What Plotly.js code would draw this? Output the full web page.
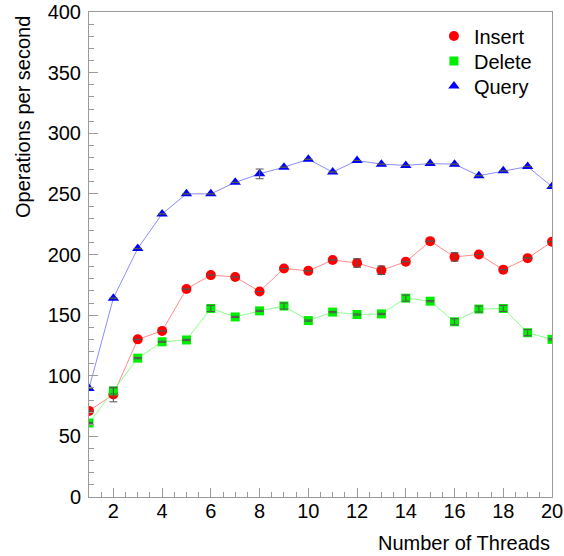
<!DOCTYPE html>
<html>
<head>
<meta charset="utf-8">
<script src="https://cdn.plot.ly/plotly-3.0.1.min.js"></script>
<style>
  html, body { margin: 0; padding: 0; background: #fff; }
  #chart { width: 564px; height: 556px; }
</style>
</head>
<body>
<div id="chart"></div>
<script>
// Throughput versus number of worker threads
const threads = [1, 2, 3, 4, 5, 6, 7, 8, 9, 10, 11, 12, 13, 14, 15, 16, 17, 18, 19, 20];

const insertOps = [71, 84.5, 130, 137, 171.5, 183, 181.5, 169.5, 188.5, 186.5,
                   195.5, 193, 187, 194, 211, 198, 200, 187.5, 197, 210.5];
const insertErr = [0, 6, 0, 0, 0, 0, 0, 0, 0, 0, 0, 3.5, 3.5, 0, 0, 3.5, 0, 0, 0, 0];

const deleteOps = [61, 87.5, 114.5, 128, 129.5, 155.5, 148.5, 153.5, 157.5, 145.5,
                   152.5, 150.5, 151, 164, 161.5, 144.5, 155, 155.5, 135.5, 130];
const deleteErr = [0.5, 2.5, 0.5, 0.5, 0.5, 2.5, 0.5, 0.5, 2.5, 0.5, 0.5, 0.5, 0.5, 2.5, 0.5, 2.5, 2.5, 2.5, 2.5, 0.5];

const queryOps = [89.5, 164, 205, 233.5, 250, 250, 259.5, 266.5, 272, 278.5,
                  268, 277.5, 274.5, 273.5, 275, 274.5, 265, 269, 272.5, 256];
const queryErr = [0, 0, 0, 0, 0, 0, 0, 4, 0, 0, 0, 0, 0, 0, 0, 0, 0, 0, 0, 0];

const seriesNames = ['Insert', 'Delete', 'Query'];
const markerColors = ['#ff0000', '#00ee00', '#0000ff'];
const lineColors = ['#ff8c8c', '#8cff8c', '#8c8cff'];
const symbols = ['circle', 'square', 'triangle-up'];
const markerSizes = [10, 9, 10];
const legendIds = ['legend', 'legend2', 'legend3'];

const series = [
  { y: insertOps, err: insertErr },
  { y: deleteOps, err: deleteErr },
  { y: queryOps, err: queryErr }
];

const FONT = 'Liberation Sans, Arial, Helvetica, sans-serif';
const traces = [];

// connecting lines underneath
series.forEach((s, i) => {
  traces.push({
    x: threads, y: s.y, type: 'scatter', mode: 'lines',
    line: { color: lineColors[i], width: 1 },
    showlegend: false, hoverinfo: 'skip'
  });
});

// markers (these carry the legend entries)
series.forEach((s, i) => {
  traces.push({
    x: threads, y: s.y, type: 'scatter', mode: 'markers',
    name: seriesNames[i], legend: legendIds[i],
    marker: { color: markerColors[i], symbol: symbols[i], size: markerSizes[i],
              line: { width: 0 } }
  });
});

// error bars drawn on top of the markers
series.forEach((s, i) => {
  traces.push({
    x: threads, y: s.y, type: 'scatter', mode: 'markers',
    marker: { opacity: 0, size: 1 },
    error_y: { type: 'data', array: s.err, visible: true,
               color: '#555555', thickness: 1, width: 4 },
    showlegend: false, hoverinfo: 'skip'
  });
});

const axisCommon = {
  showgrid: false, zeroline: false,
  showline: true, mirror: true, linecolor: '#9a9a9a', linewidth: 1,
  ticks: 'inside', tickcolor: '#9a9a9a', tickwidth: 1, ticklen: 9,
  tickfont: { family: FONT, size: 20, color: '#000' }
};

// one single-entry legend per series so each row sits at its own height
function legendBox(yMid) {
  return {
    x: 0.745, y: yMid, xanchor: 'left', yanchor: 'middle',
    bgcolor: 'rgba(0,0,0,0)', borderwidth: 0,
    font: { family: FONT, size: 20, color: '#000' }
  };
}

const layout = {
  width: 564, height: 556,
  margin: { l: 89, r: 12, t: 12, b: 59 },
  paper_bgcolor: '#ffffff', plot_bgcolor: '#ffffff',
  font: { family: FONT, color: '#000' },
  showlegend: true,
  legend: legendBox(0.9505),
  legend2: legendBox(0.899),
  legend3: legendBox(0.8474),
  xaxis: Object.assign({}, axisCommon, {
    range: [1, 20], tick0: 0, dtick: 2,
    minor: { dtick: 0.5, ticks: 'inside', ticklen: 5, tickcolor: '#9a9a9a' },
    ticklabelstandoff: -4
  }),
  yaxis: Object.assign({}, axisCommon, {
    range: [0, 400], tick0: 0, dtick: 50,
    minor: { dtick: 10, ticks: 'inside', ticklen: 5, tickcolor: '#9a9a9a' },
    ticklabelstandoff: 3
  }),
  annotations: [
    {
      text: 'Number of Threads', xref: 'paper', yref: 'paper',
      x: 1, y: 0, xanchor: 'right', yanchor: 'middle', yshift: -46,
      showarrow: false, font: { family: FONT, size: 20, color: '#000' }
    },
    {
      text: 'Operations per second', xref: 'paper', yref: 'paper',
      x: 0, y: 1, xanchor: 'center', yanchor: 'top', xshift: -66, yshift: -2,
      textangle: -90,
      showarrow: false, font: { family: FONT, size: 20, color: '#000' }
    }
  ]
};

Plotly.newPlot('chart', traces, layout, { staticPlot: true, displayModeBar: false });
</script>
</body>
</html>
